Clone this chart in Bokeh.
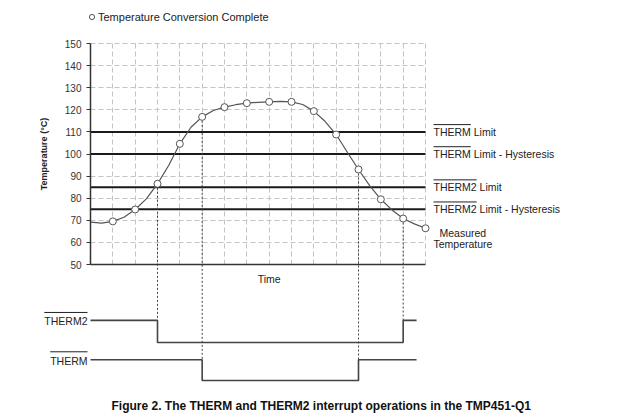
from math import pi
from bokeh.plotting import figure
from bokeh.models import (Range1d, FixedTicker, LinearAxis, Label, Legend,
                          LegendItem, Arrow)
from bokeh.embed import file_html
from bokeh.resources import INLINE

# ---------------- data ----------------
curve_t = [0, 0.5, 1, 1.5, 2, 2.5, 3, 3.5, 4, 4.5, 5, 5.5, 6, 6.5, 7, 7.5,
           8, 8.5, 9, 9.5, 10, 10.5, 11, 11.5, 12, 12.5, 13, 13.5, 14, 14.5, 15]
curve_temp = [69.2, 68.7, 69.5, 71.4, 74.9, 79.7, 86.5, 94.8, 104.6, 112.1,
              116.8, 119.7, 121.2, 122.3, 123.0, 123.4, 123.6, 123.8, 123.6,
              122.4, 119.4, 114.8, 108.8, 100.8, 93.0, 85.7, 79.5, 74.7, 70.8,
              68.4, 66.4]

conv_t = [1, 2, 3, 4, 5, 6, 7, 8, 9, 10, 11, 12, 13, 14, 15]
conv_temp = [69.5, 74.9, 86.5, 104.6, 116.8, 121.2, 123.0, 123.6, 123.6,
             119.4, 108.8, 93.0, 79.5, 70.8, 66.4]

limit_values = [110, 100, 85, 75]
limit_names = ["THERM", "THERM", "THERM2", "THERM2"]
limit_suffix = [" Limit", " Limit - Hysteresis", " Limit", " Limit - Hysteresis"]

temp_ticks = [50, 60, 70, 80, 90, 100, 110, 120, 130, 140, 150]
time_ticks = list(range(0, 16))

# interrupt outputs (1 = high / inactive, 0 = asserted low)
therm2_t = [0, 3, 14, 14.6]
therm2_state = [1, 0, 1, 1]
therm_t = [0, 5, 12, 14.6]
therm_state = [1, 0, 1, 1]

# conversions that trip an output, and which output
trip_t = [3, 5, 12, 14]
trip_signal = ["THERM2", "THERM", "THERM", "THERM2"]

caption = "Figure 2. The THERM and THERM2 interrupt operations in the TMP451-Q1"

# ---------------- layout constants ----------------
FONT = "Liberation Sans"
INK = "#222222"
LEVELS = {"THERM2": (14.7, 24.7), "THERM": (-2.5, 6.9)}  # (low, high) rows
PX_T = 335 / 15.0
T0, T1 = 0, 15

p = figure(width=620, height=416,
           x_range=Range1d(-90 / PX_T, (620 - 90) / PX_T),
           y_range=Range1d(150 - 373 / 2.21, 150 + 43 / 2.21),
           output_backend="svg", toolbar_location=None,
           x_axis_location=None, y_axis_location=None,
           min_border_left=0, min_border_right=0,
           min_border_top=0, min_border_bottom=0)
p.outline_line_color = None
p.background_fill_color = "white"

# y (temperature) axis at t = 0
yax = LinearAxis(fixed_location=T0, ticker=FixedTicker(ticks=temp_ticks),
                 bounds=(50, 150), major_tick_out=4, major_tick_in=0,
                 minor_tick_out=0, minor_tick_in=0,
                 axis_line_color="#333333", axis_line_width=1.5,
                 major_tick_line_color="#333333", major_label_standoff=5,
                 major_label_text_font=FONT, major_label_text_font_size="10px",
                 major_label_text_color="#333333")
p.add_layout(yax, "left")

# x (time) axis sitting at 50 degC
xax = LinearAxis(fixed_location=50, ticker=FixedTicker(ticks=[]),
                 bounds=(T0, T1), major_tick_out=0, major_tick_in=0,
                 minor_tick_out=0, major_label_text_font_size="0px",
                 axis_line_color="#333333", axis_line_width=1.5)
p.add_layout(xax, "below")

# grids
p.ygrid.ticker = FixedTicker(ticks=temp_ticks[1:])
p.ygrid.bounds = (50, 150)
p.ygrid.cross_bounds = (T0, T1)
p.ygrid.grid_line_color = "#c4c4c4"
p.ygrid.grid_line_dash = "5 3"
p.xgrid.ticker = FixedTicker(ticks=time_ticks)
p.xgrid.bounds = (T0, T1)
p.xgrid.cross_bounds = (50, 150)
p.xgrid.grid_line_color = "#c4c4c4"
p.xgrid.grid_line_dash = "5 3"

# limit lines
p.segment(x0=[T0] * len(limit_values), x1=[T1] * len(limit_values),
          y0=limit_values, y1=limit_values, line_color="#1a1a1a", line_width=2)

# dotted drop lines from the tripping conversions to the outputs
trip_y0 = [conv_temp[conv_t.index(t)] for t in trip_t]
trip_y1 = [LEVELS[s][1] for s in trip_signal]
p.segment(x0=trip_t, y0=trip_y0, x1=trip_t, y1=trip_y1,
          line_color="#444444", line_width=1, line_dash="2 2")

# measured temperature curve and conversions
p.line(curve_t, curve_temp, line_color="#555555", line_width=1.2)
conv = p.scatter(conv_t, conv_temp, size=7, marker="circle",
                 fill_color="white", line_color="#555555", line_width=1)

# interrupt outputs
for name, ts, st in (("THERM2", therm2_t, therm2_state),
                     ("THERM", therm_t, therm_state)):
    lo, hi = LEVELS[name]
    ys = [lo + s * (hi - lo) for s in st]
    p.step(ts, ys, mode="after", line_color="#444444", line_width=1.6)
    p.add_layout(Label(x=T0, y=hi, x_offset=-3, y_offset=-1, text=name,
                       text_align="right", text_baseline="middle",
                       text_font=FONT, text_font_size="10.5px",
                       text_color=INK))
    w = (43.2 if name == "THERM2" else 37.3) / PX_T
    x1 = T0 - 3 / PX_T
    p.add_layout(Arrow(start=None, end=None, x_start=x1 - w, x_end=x1,
                       y_start=hi + 3.6, y_end=hi + 3.6,
                       line_color=INK, line_width=1))

# limit labels with overlined signal names
for v, n, s in zip(limit_values, limit_names, limit_suffix):
    p.add_layout(Label(x=T1, y=v, x_offset=8, text=n + s,
                       text_align="left", text_baseline="middle",
                       text_font=FONT, text_font_size="10.5px",
                       text_color=INK))
    w = (43.2 if n == "THERM2" else 37.3) / PX_T
    xs = T1 + 8 / PX_T
    p.add_layout(Arrow(start=None, end=None, x_start=xs, x_end=xs + w,
                       y_start=v + 3.3, y_end=v + 3.3,
                       line_color=INK, line_width=1))

# measured temperature label
p.add_layout(Label(x=conv_t[-1], y=conv_temp[-1], x_offset=14, y_offset=-4.5,
                   text="Measured", text_baseline="middle", text_font=FONT,
                   text_font_size="10.5px", text_color=INK))
p.add_layout(Label(x=conv_t[-1], y=conv_temp[-1], x_offset=8, y_offset=-15.5,
                   text="Temperature", text_baseline="middle", text_font=FONT,
                   text_font_size="10.5px", text_color=INK))

# axis titles
p.add_layout(Label(x=T0, y=100, x_offset=-47, angle=pi / 2,
                   text="Temperature (°C)", text_align="center",
                   text_baseline="middle", text_font=FONT,
                   text_font_size="9px", text_font_style="bold", text_color=INK))
p.add_layout(Label(x=8, y=50, y_offset=-14, text="Time", text_align="center",
                   text_baseline="middle", text_font=FONT,
                   text_font_size="10.5px", text_color=INK))

# caption
p.add_layout(Label(x=10.33, y=150 - 362 / 2.21, text=caption,
                   text_align="center", text_baseline="middle",
                   text_font=FONT, text_font_size="12px",
                   text_font_style="bold", text_color="#111111"))

# legend
legend = Legend(items=[LegendItem(label="Temperature Conversion Complete",
                                  renderers=[conv])],
                location=(85, 393), padding=0, margin=0, spacing=0,
                glyph_width=13, glyph_height=13, label_height=13,
                label_standoff=0, border_line_color=None,
                background_fill_alpha=0, label_text_font=FONT,
                label_text_font_size="11px", label_text_color=INK)
p.add_layout(legend)

open("out.html", "w").write(file_html(p, INLINE))
